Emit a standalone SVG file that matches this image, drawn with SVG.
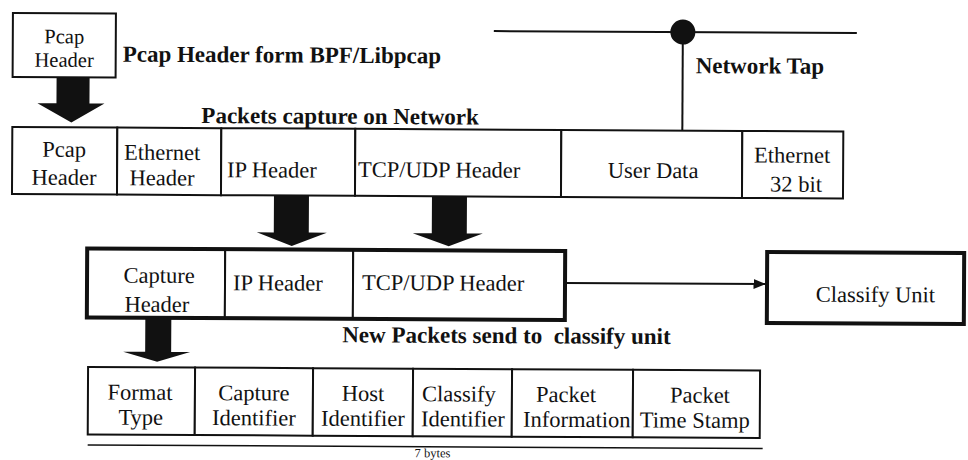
<svg xmlns="http://www.w3.org/2000/svg" width="968" height="460" viewBox="0 0 968 460">
<style>
.box{fill:#fff;stroke:#111;stroke-width:2}
.frame{fill:none;stroke:#111;stroke-width:4}
.thick{fill:#fff;stroke:#111;stroke-width:4}
.t{font-family:"Liberation Serif","Times New Roman",serif;font-size:22.5px;fill:#111}
.c{text-anchor:middle}
.b{font-weight:bold;font-size:23px}
.blk{fill:#111;stroke:none}
.ln{stroke:#111;stroke-width:2;fill:none}
</style>
<defs>
<marker id="ah" markerUnits="userSpaceOnUse" markerWidth="13" markerHeight="11" refX="12" refY="5" orient="auto">
<path d="M0,0 L12,5 L0,10 z" fill="#111"/>
</marker>
</defs>
<rect width="968" height="460" fill="#fff"/>
<g transform="rotate(0.3)">
<g id="pcap-header-top">
<rect class="box" x="13" y="13" width="103" height="64"/>
<text class="t c" style="font-size:20.5px" x="64.5" y="43">Pcap</text>
<text class="t c" style="font-size:20.5px" x="64.5" y="66.5">Header</text>
</g>
<text id="label-bpf" class="t b" x="123" y="61">Pcap Header form BPF/Libpcap</text>
<text id="label-capture" class="t b" x="202" y="122">Packets capture on Network</text>
<g id="network-tap">
<line class="ln" x1="494" y1="28.5" x2="857" y2="28.5"/>
<line class="ln" x1="683" y1="28.5" x2="683" y2="127"/>
<circle cx="683" cy="28.5" r="12.5" fill="#111"/>
<text class="t b" x="696" y="69.5">Network Tap</text>
</g>
<g id="row1">
<g id="r1-pcap"><rect class="box" x="13" y="127" width="105" height="67"/>
<text class="t c" x="65" y="156.5">Pcap</text><text class="t c" x="65" y="184.5">Header</text></g>
<g id="r1-eth"><rect class="box" x="118" y="127" width="104" height="67"/>
<text class="t c" x="163" y="159">Ethernet</text><text class="t c" x="163" y="184.5">Header</text></g>
<g id="r1-ip"><rect class="box" x="222" y="127" width="134" height="67"/>
<text class="t" x="228" y="176">IP Header</text></g>
<g id="r1-tcp"><rect class="box" x="356" y="127" width="206" height="67"/>
<text class="t" x="359" y="175">TCP/UDP Header</text></g>
<g id="r1-user"><rect class="box" x="562" y="127" width="181" height="67"/>
<text class="t c" x="654" y="174.5">User Data</text></g>
<g id="r1-eth32"><rect class="box" x="743" y="127" width="101" height="67"/>
<text class="t c" x="793" y="158.5">Ethernet</text><text class="t c" x="797" y="187.5">32 bit</text></g>
</g>
<g id="row2">
<g id="r2-capture"><rect class="box" x="88.5" y="248" width="138" height="69"/>
<text class="t c" x="160.5" y="282">Capture</text><text class="t c" x="158.5" y="311">Header</text></g>
<g id="r2-ip"><rect class="box" x="226.5" y="248" width="128" height="69"/>
<text class="t" x="234.5" y="289">IP Header</text></g>
<g id="r2-tcp"><rect class="box" x="354.5" y="248" width="212" height="69"/>
<text class="t" x="363.5" y="288">TCP/UDP Header</text></g>
<rect class="frame" x="88.5" y="248" width="478" height="69"/>
</g>
<g id="classify-unit">
<rect class="thick" x="768.5" y="248" width="197" height="71"/>
<text class="t c" x="877" y="297.5">Classify Unit</text>
</g>
<text id="label-new" class="t b" x="344" y="340.5" xml:space="preserve">New Packets send to  classify unit</text>
<g id="row3">
<g id="r3-format"><rect class="box" x="90" y="366.5" width="107" height="67.5"/>
<text class="t c" x="142" y="399">Format</text><text class="t c" x="143" y="424">Type</text></g>
<g id="r3-capid"><rect class="box" x="197" y="366.5" width="118" height="67.5"/>
<text class="t c" x="256" y="399">Capture</text><text class="t c" x="256" y="424">Identifier</text></g>
<g id="r3-host"><rect class="box" x="315" y="366.5" width="100" height="67.5"/>
<text class="t c" x="365" y="399">Host</text><text class="t c" x="365" y="424">Identifier</text></g>
<g id="r3-classid"><rect class="box" x="415" y="366.5" width="99" height="67.5"/>
<text class="t c" x="461" y="399">Classify</text><text class="t c" x="465" y="424">Identifier</text></g>
<g id="r3-pinfo"><rect class="box" x="514" y="366.5" width="121" height="67.5"/>
<text class="t c" x="568" y="399">Packet</text><text class="t c" x="579" y="424">Information</text></g>
<g id="r3-time"><rect class="box" x="635" y="366.5" width="127" height="67.5"/>
<text class="t c" x="702" y="399">Packet</text><text class="t c" x="697" y="424">Time Stamp</text></g>
</g>
<g id="bytes-span">
<line stroke="#111" stroke-width="1.5" x1="90" y1="444.5" x2="765" y2="444.5"/>
<text class="t" style="font-size:12.5px" x="417" y="455">7 bytes</text>
</g>
<g id="connectors">
<polygon class="blk" points="57,77 90,77 90,103 105,103 72,122 38,103 57,103"/>
<polygon class="blk" points="275,194 310,194 310,231 328,231 293,244.5 258,231 275,231"/>
<polygon class="blk" points="433,194 468,194 468,231 484,231 450,244 414,231 433,231"/>
<polygon class="blk" points="147,318 173,318 173,351 192,351 159,361 125,351 147,351"/>
<line class="ln" x1="567" y1="280" x2="767" y2="280" marker-end="url(#ah)"/>
</g>
</g>
</svg>
